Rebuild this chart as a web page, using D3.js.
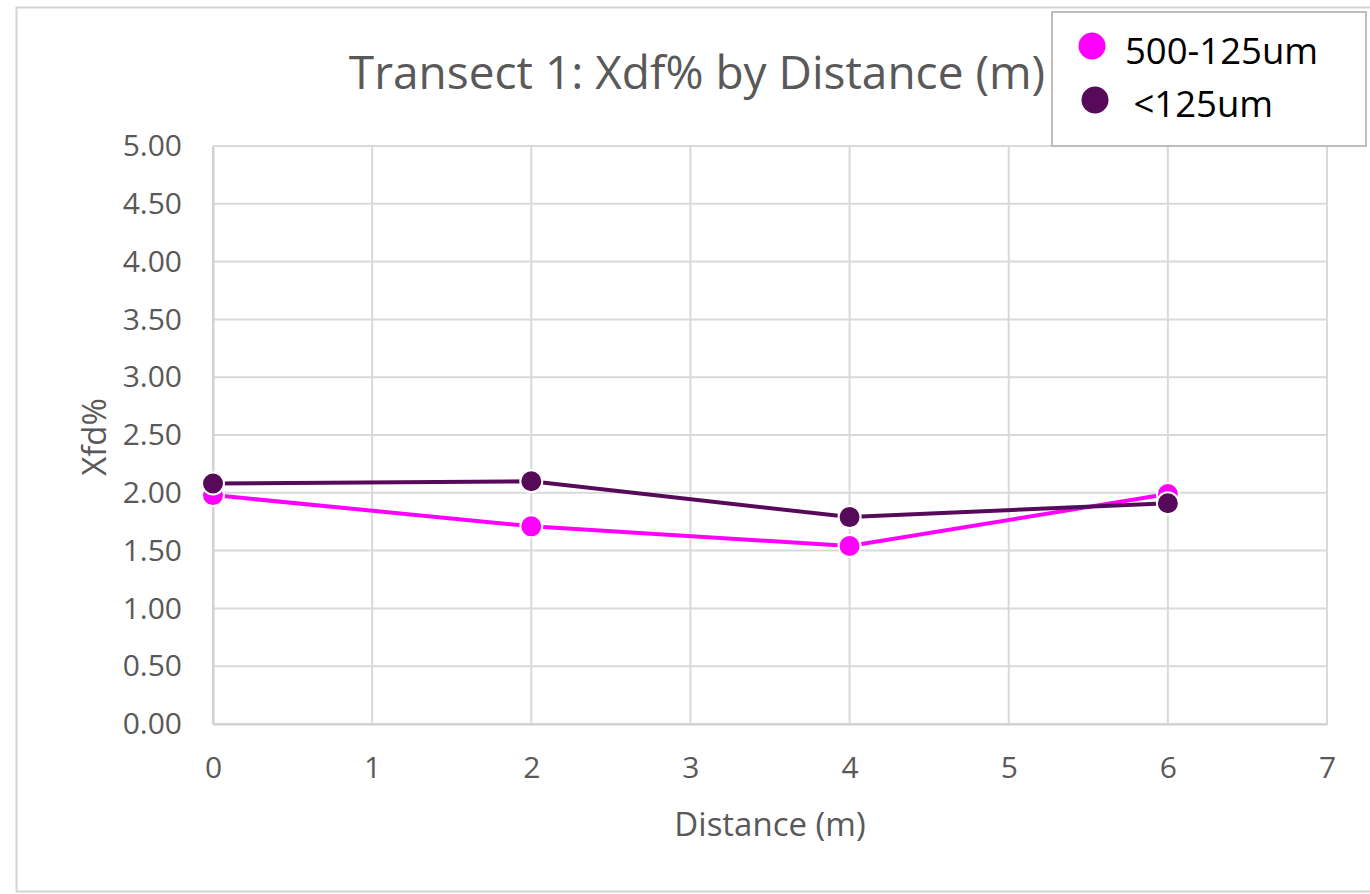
<!DOCTYPE html>
<html>
<head>
<meta charset="utf-8">
<script src="https://cdn.jsdelivr.net/npm/d3@7"></script>
<style>
  html, body { margin: 0; padding: 0; background: #fff; }
  svg { display: block; font-family: "Open Sans", sans-serif; }
</style>
</head>
<body>
<svg id="chart" width="1370" height="894"></svg>
<script>
// Distance along the transect (m)
const distances = [0, 2, 4, 6];
// Frequency-dependent susceptibility per size fraction
const coarseXfd = [1.98, 1.71, 1.54, 1.99];   // 500-125um
const fineXfd   = [2.08, 2.10, 1.79, 1.91];   // <125um
const seriesNames = ["500-125um", " <125um"];
const seriesColors = ["#ff00ff", "#570a5a"];
const yTicks = [0, 0.5, 1, 1.5, 2, 2.5, 3, 3.5, 4, 4.5, 5];
const xTicks = [0, 1, 2, 3, 4, 5, 6, 7];

const svg = d3.select("#chart");
const margin = { left: 213, top: 146, right: 1327, bottom: 724 };

// Outer chart frame
svg.append("rect")
  .attr("x", 16.5).attr("y", 7.5)
  .attr("width", 1370).attr("height", 884)
  .attr("fill", "#fff").attr("stroke", "#d4d4d4").attr("stroke-width", 2);

const x = d3.scaleLinear().domain([0, 7]).range([margin.left, margin.right]);
const y = d3.scaleLinear().domain([0, 5]).range([margin.bottom, margin.top]);

// Gridlines
const grid = svg.append("g");
grid.selectAll("line.h").data(yTicks).join("line")
  .attr("x1", margin.left).attr("x2", margin.right)
  .attr("y1", d => y(d)).attr("y2", d => y(d))
  .attr("stroke", "#d9d9d9").attr("stroke-width", 2);
grid.selectAll("line.v").data(xTicks).join("line")
  .attr("y1", margin.top).attr("y2", margin.bottom)
  .attr("x1", d => x(d)).attr("x2", d => x(d))
  .attr("stroke", "#d9d9d9").attr("stroke-width", 2);

// Axes
const yAxis = svg.append("g")
  .attr("transform", `translate(${margin.left},0)`)
  .call(d3.axisLeft(y).tickValues(yTicks).tickFormat(d3.format(".2f")).tickSize(0).tickPadding(31));
const xAxis = svg.append("g")
  .attr("transform", `translate(0,${margin.bottom})`)
  .call(d3.axisBottom(x).tickValues(xTicks).tickFormat(d3.format("d")).tickSize(0).tickPadding(33));
[yAxis, xAxis].forEach(a => {
  a.select(".domain").attr("stroke", "#d0d0d0").attr("stroke-width", 2);
  a.selectAll("text").attr("fill", "#595959").style("font-size", "30px")
    .style("font-family", "'Open Sans', sans-serif");
});

// Series lines and markers
const series = [coarseXfd, fineXfd];
const line = d3.line().x((d, i) => x(distances[i])).y(d => y(d));
series.forEach((vals, s) => {
  svg.append("path").datum(vals)
    .attr("d", line).attr("fill", "none")
    .attr("stroke", seriesColors[s]).attr("stroke-width", 4);
  svg.append("g").selectAll("circle").data(vals).join("circle")
    .attr("cx", (d, i) => x(distances[i])).attr("cy", d => y(d))
    .attr("r", 11).attr("fill", seriesColors[s])
    .attr("stroke", "#fff").attr("stroke-width", 2);
});

// Titles
svg.append("text")
  .attr("x", 697).attr("y", 89).attr("text-anchor", "middle")
  .attr("fill", "#595959").style("font-size", "46px")
  .text("Transect 1: Xdf% by Distance (m)");
svg.append("text")
  .attr("x", 770).attr("y", 836).attr("text-anchor", "middle")
  .attr("fill", "#595959").style("font-size", "33px")
  .text("Distance (m)");
svg.append("text")
  .attr("transform", "translate(106,437) rotate(-90)")
  .attr("text-anchor", "middle")
  .attr("fill", "#595959").style("font-size", "33px")
  .text("Xfd%");

// Legend
const legend = svg.append("g");
legend.append("rect")
  .attr("x", 1052).attr("y", 12).attr("width", 314).attr("height", 134)
  .attr("fill", "#fff").attr("stroke", "#bdbdbd").attr("stroke-width", 2);
const legendRows = [{ cx: 1092, cy: 46, tx: 1125, ty: 64 }, { cx: 1095, cy: 100, tx: 1124, ty: 117 }];
legendRows.forEach((r, i) => {
  legend.append("circle").attr("cx", r.cx).attr("cy", r.cy).attr("r", 13.5).attr("fill", seriesColors[i]);
  legend.append("text").attr("x", r.tx).attr("y", r.ty)
    .attr("fill", "#000").style("font-size", "36.5px").style("white-space", "pre")
    .attr("xml:space", "preserve")
    .text(seriesNames[i]);
});
</script>
</body>
</html>
